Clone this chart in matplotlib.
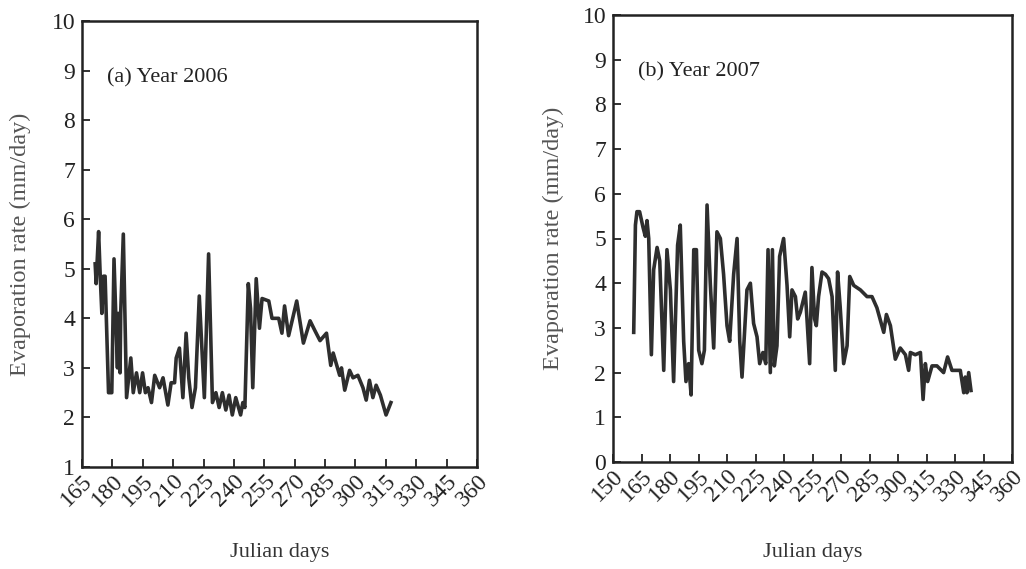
import matplotlib.pyplot as plt
import numpy as np

plt.rcParams['font.family'] = ['Liberation Serif', 'DejaVu Serif']

# Year 2006
days_2006 = [171.5, 172.0, 172.3, 173.2, 174.0, 174.8, 175.6, 176.4, 178.1, 179.7,
             180.8, 182.5, 182.9, 183.8, 184.1, 185.4, 187.0, 189.1, 190.3, 191.9,
             193.5, 194.9, 196.3, 197.6, 199.3, 200.9, 203.3, 205.0, 207.4, 209.0,
             210.7, 211.5, 213.1, 214.8, 216.4, 217.7, 219.3, 221.0, 222.9, 225.4,
             227.5, 229.4, 231.1, 232.7, 234.3, 236.0, 237.6, 239.2, 240.9, 243.3,
             244.4, 245.4, 247.1, 248.2, 249.3, 251.0, 252.6, 253.9, 257.2, 258.8,
             262.1, 263.7, 265.0, 267.0, 271.0, 274.3, 277.6, 280.0, 282.5, 285.7,
             287.8, 289.0, 292.2, 293.1, 294.7, 297.1, 298.8, 301.2, 303.7, 305.3,
             306.9, 308.6, 310.2, 312.3, 315.1, 317.5]
evap_2006 = [5.1, 4.7, 5.0, 5.75, 4.85, 4.1, 4.85, 4.85, 2.5, 2.5,
             5.2, 3.0, 4.1, 2.9, 4.1, 5.7, 2.4, 3.2, 2.5, 2.9,
             2.5, 2.9, 2.5, 2.6, 2.3, 2.85, 2.6, 2.8, 2.25, 2.7,
             2.7, 3.2, 3.4, 2.4, 3.7, 2.8, 2.2, 2.6, 4.45, 2.4,
             5.3, 2.3, 2.5, 2.2, 2.5, 2.15, 2.45, 2.05, 2.4, 2.05,
             2.3, 2.2, 4.7, 4.2, 2.6, 4.8, 3.8, 4.4, 4.35, 4.0,
             4.0, 3.7, 4.25, 3.65, 4.35, 3.5, 3.95, 3.75, 3.55, 3.7,
             3.05, 3.3, 2.85, 3.0, 2.55, 2.95, 2.8, 2.85, 2.6, 2.35,
             2.75, 2.4, 2.65, 2.45, 2.05, 2.3]

# Year 2007
days_2007 = [160.9, 161.8, 162.6, 164.0, 165.8, 167.0, 167.9, 168.8, 170.2, 171.4,
             173.2, 174.6, 176.7, 178.4, 180.2, 181.9, 184.0, 185.4, 187.2, 188.4,
             189.8, 191.1, 192.5, 193.9, 195.1, 196.8, 198.1, 199.5, 201.2, 203.0,
             204.7, 206.5, 208.2, 210.0, 211.4, 213.5, 215.3, 216.7, 217.9, 220.5,
             222.3, 224.0, 225.8, 227.2, 228.9, 230.4, 231.6, 232.8, 233.9, 234.9,
             236.3, 237.7, 239.8, 241.6, 243.0, 244.2, 246.0, 247.2, 248.6, 251.2,
             252.1, 253.5, 254.7, 256.1, 257.0, 258.2, 260.0, 261.8, 263.5, 265.3,
             267.0, 268.2, 269.6, 271.4, 273.2, 274.6, 276.7, 280.2, 283.7, 286.3,
             288.9, 292.5, 293.9, 296.0, 298.6, 301.2, 303.9, 305.6, 306.5, 309.1,
             311.8, 313.2, 314.4, 315.6, 317.9, 320.5, 324.0, 326.1, 328.4, 331.1,
             332.8, 334.6, 335.4, 336.3, 337.2, 338.4]
evap_2007 = [2.9, 5.3, 5.6, 5.6, 5.25, 5.05, 5.4, 5.0, 2.4, 4.3,
             4.8, 4.5, 2.05, 4.75, 3.85, 1.8, 4.85, 5.3, 2.7, 1.8,
             2.2, 1.5, 4.75, 4.75, 2.5, 2.2, 2.5, 5.75, 4.0, 2.55,
             5.15, 5.0, 4.2, 3.05, 2.7, 4.2, 5.0, 2.7, 1.9, 3.85,
             4.0, 3.1, 2.8, 2.2, 2.45, 2.2, 4.75, 2.0, 4.75, 2.15,
             2.6, 4.6, 5.0, 3.95, 2.8, 3.85, 3.7, 3.2, 3.35, 3.8,
             3.2, 2.2, 4.35, 3.2, 3.05, 3.7, 4.25, 4.2, 4.1, 3.7,
             2.05, 4.25, 3.45, 2.2, 2.6, 4.15, 3.95, 3.85, 3.7, 3.7,
             3.45, 2.9, 3.3, 3.05, 2.3, 2.55, 2.4, 2.05, 2.45, 2.4,
             2.45, 1.4, 2.2, 1.8, 2.15, 2.15, 2.0, 2.35, 2.05, 2.05,
             2.05, 1.55, 1.9, 1.55, 2.0, 1.6]

xticks_2006 = list(range(165, 361, 15))
xticks_2007 = list(range(150, 361, 15))

fig = plt.figure(figsize=(10.26, 5.69), dpi=100)
ax1 = fig.add_axes([82/1026, 1 - 467/569, 395/1026, 446/569])
ax2 = fig.add_axes([613/1026, 1 - 462/569, 399/1026, 447/569])

line_col = '#2e2e2e'

def style_axis(ax, xticks, ylims, label, ylab_x, xlab_y):
	ax.set_xlim(xticks[0], xticks[-1])
	ax.set_ylim(*ylims)
	ax.set_xticks(xticks)
	ax.set_yticks(range(ylims[0], ylims[1] + 1))
	ax.set_xticklabels([str(t) for t in xticks], rotation=45, ha='right',
			va='top', rotation_mode='anchor')
	ax.tick_params(direction='in', length=6, width=1.3, labelsize=17,
			colors='#222222')
	ax.tick_params(axis='x', pad=3)
	ax.tick_params(axis='y', pad=5)
	for s in ax.spines.values():
		s.set_linewidth(1.8)
		s.set_color('#222222')
	ax.set_ylabel("Evaporation rate (mm/day)", fontsize=17.5, color='#555555')
	ax.set_xlabel("Julian days", fontsize=16, color='#333333')
	# put the axis titles where the scan has them
	ax.yaxis.set_label_coords(ylab_x, 0.5)
	ax.xaxis.set_label_coords(0.5, xlab_y)
	ax.text(0.063, 0.872, label, transform=ax.transAxes, fontsize=16,
			va='center', ha='left', color='#222222')

ax1.plot(days_2006, evap_2006, color=line_col, lw=2.6)
style_axis(ax1, xticks_2006, (1, 10), "(a) Year 2006", -0.129, -0.170)

ax2.plot(days_2007, evap_2007, color=line_col, lw=2.6)
style_axis(ax2, xticks_2007, (0, 10), "(b) Year 2007", -0.123, -0.181)

fig.savefig('out.png', dpi=100)
